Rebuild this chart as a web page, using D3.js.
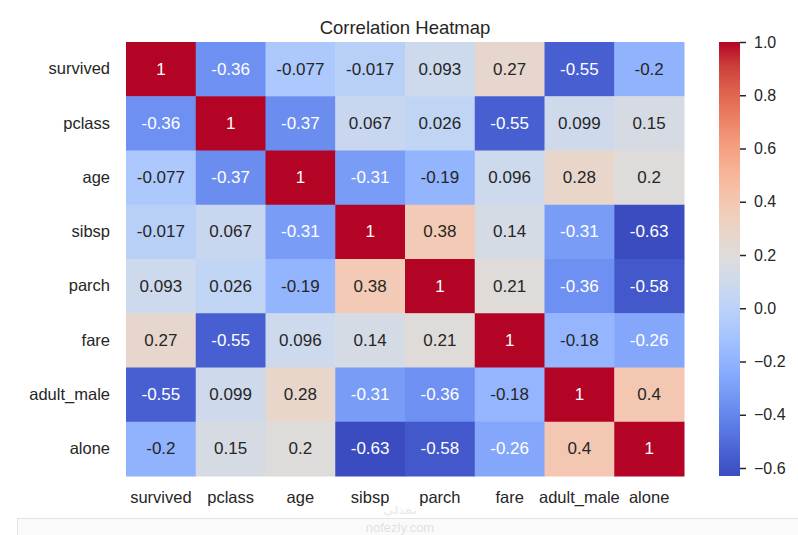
<!DOCTYPE html>
<html>
<head>
<meta charset="utf-8">
<script src="https://cdn.jsdelivr.net/npm/d3@7"></script>
<style>
  body { margin: 0; background: #ffffff; }
  text { font-family: "Liberation Sans", Arial, sans-serif; }
</style>
</head>
<body>
<div id="chart"></div>
<script>
// Chart data
const labels = ['survived', 'pclass', 'age', 'sibsp', 'parch', 'fare', 'adult_male', 'alone'];
const rowSurvived = [1, -0.36, -0.077, -0.017, 0.093, 0.27, -0.55, -0.2];
const rowPclass = [-0.36, 1, -0.37, 0.067, 0.026, -0.55, 0.099, 0.15];
const rowAge = [-0.077, -0.37, 1, -0.31, -0.19, 0.096, 0.28, 0.2];
const rowSibsp = [-0.017, 0.067, -0.31, 1, 0.38, 0.14, -0.31, -0.63];
const rowParch = [0.093, 0.026, -0.19, 0.38, 1, 0.21, -0.36, -0.58];
const rowFare = [0.27, -0.55, 0.096, 0.14, 0.21, 1, -0.18, -0.26];
const rowAdultMale = [-0.55, 0.099, 0.28, -0.31, -0.36, -0.18, 1, 0.4];
const rowAlone = [-0.2, 0.15, 0.2, -0.63, -0.58, -0.26, 0.4, 1];
const colorbarTicks = [-0.6, -0.4, -0.2, 0.0, 0.2, 0.4, 0.6, 0.8, 1.0];

const matrix = [rowSurvived, rowPclass, rowAge, rowSibsp, rowParch, rowFare, rowAdultMale, rowAlone];

// coolwarm anchors
const coolwarm = ['#3b4cc0', '#4961d2', '#5b7ae5', '#6e90f2', '#82a6fb', '#96b7ff', '#aac7fd',
    '#bcd2f7', '#cdd9ec', '#dcdddd', '#e8d6cc', '#f1ccb8', '#f6bea4', '#f7ac8e', '#f39779',
    '#ea7b60', '#de604d', '#cc403a', '#b40426'];

const W = 798, H = 535;
const plot = { left: 126, top: 42, width: 558, height: 434 };
const cbar = { left: 719, width: 21 };

const cells = [];
matrix.forEach((row, i) => row.forEach((v, j) => cells.push({ r: labels[i], c: labels[j], v })));

const vmin = d3.min(cells, d => d.v);
const vmax = d3.max(cells, d => d.v);

const tScale = d3.scaleLinear().domain([vmin, vmax]).range([0, 1]).clamp(true);
const cmap = d3.scaleLinear()
    .domain(coolwarm.map((c, i) => i / (coolwarm.length - 1)))
    .range(coolwarm)
    .interpolate(d3.interpolateRgb);
const color = v => cmap(tScale(v));

function textColor(v) {
    const c = d3.rgb(color(v));
    const lin = x => { x = x / 255; return x <= 0.03928 ? x / 12.92 : Math.pow((x + 0.055) / 1.055, 2.4); };
    const lum = 0.2126 * lin(c.r) + 0.7152 * lin(c.g) + 0.0722 * lin(c.b);
    return lum > 0.408 ? '#262626' : '#ffffff';
}

const svg = d3.select('#chart').append('svg')
    .attr('width', W)
    .attr('height', H);

svg.append('rect').attr('width', W).attr('height', H).attr('fill', '#ffffff');

// bottom page panel
svg.append('rect')
    .attr('x', 17.5).attr('y', 518.5)
    .attr('width', W).attr('height', 30)
    .attr('fill', '#fafafa')
    .attr('stroke', '#e3e3e3');

const x = d3.scaleBand().domain(labels).range([plot.left, plot.left + plot.width]);
const y = d3.scaleBand().domain(labels).range([plot.top, plot.top + plot.height]);

// cells
svg.append('g').selectAll('rect')
    .data(cells)
    .join('rect')
    .attr('x', d => x(d.c))
    .attr('y', d => y(d.r))
    .attr('width', x.bandwidth() + 0.5)
    .attr('height', y.bandwidth() + 0.5)
    .attr('fill', d => color(d.v));

// annotations
svg.append('g').selectAll('text')
    .data(cells)
    .join('text')
    .attr('x', d => x(d.c) + x.bandwidth() / 2)
    .attr('y', d => y(d.r) + y.bandwidth() / 2)
    .attr('text-anchor', 'middle')
    .attr('dominant-baseline', 'central')
    .attr('font-size', '17px')
    .attr('fill', d => textColor(d.v))
    .text(d => String(d.v));

// axes
const xAxis = svg.append('g')
    .attr('transform', `translate(0,${plot.top + plot.height})`)
    .call(d3.axisBottom(x).tickSize(0).tickPadding(15));
const yAxis = svg.append('g')
    .attr('transform', `translate(${plot.left},0)`)
    .call(d3.axisLeft(y).tickSize(0).tickPadding(16));
[xAxis, yAxis].forEach(g => {
    g.select('.domain').remove();
    g.selectAll('text')
        .attr('font-size', '16.5px')
        .attr('fill', '#262626')
        .style('font-family', '"Liberation Sans", Arial, sans-serif');
});

// title
svg.append('text')
    .attr('x', plot.left + plot.width / 2)
    .attr('y', 34)
    .attr('text-anchor', 'middle')
    .attr('font-size', '18.5px')
    .attr('fill', '#262626')
    .text('Correlation Heatmap');

// colorbar
const cy = d3.scaleLinear().domain([vmin, vmax]).range([plot.top + plot.height, plot.top]);
const defs = svg.append('defs');
const grad = defs.append('linearGradient')
    .attr('id', 'cbgrad')
    .attr('x1', 0).attr('y1', 1).attr('x2', 0).attr('y2', 0);
coolwarm.forEach((c, i) => {
    grad.append('stop')
        .attr('offset', i / (coolwarm.length - 1))
        .attr('stop-color', c);
});
svg.append('rect')
    .attr('x', cbar.left)
    .attr('y', plot.top)
    .attr('width', cbar.width)
    .attr('height', plot.height)
    .attr('fill', 'url(#cbgrad)');

const cAxis = svg.append('g')
    .attr('transform', `translate(${cbar.left + cbar.width},0)`)
    .call(d3.axisRight(cy).tickValues(colorbarTicks).tickSize(6).tickPadding(8)
        .tickFormat(d => d3.format('.1f')(d).replace('-', '\u2212')));
cAxis.select('.domain').remove();
cAxis.selectAll('line').attr('stroke', '#262626').attr('stroke-width', 1.5);
cAxis.selectAll('text')
    .attr('font-size', '16px')
    .attr('fill', '#262626')
    .style('font-family', '"Liberation Sans", Arial, sans-serif');

// faint watermark (kept below the axis labels)
svg.append('text')
    .attr('x', 400).attr('y', 514)
    .attr('text-anchor', 'middle')
    .attr('font-size', '11px')
    .attr('font-weight', 'bold')
    .attr('fill', '#000000')
    .attr('opacity', 0.07)
    .style('font-family', '"DejaVu Sans", sans-serif')
    .text('نفذلي');
svg.append('text')
    .attr('x', 400).attr('y', 532)
    .attr('text-anchor', 'middle')
    .attr('font-size', '13px')
    .attr('fill', '#000000')
    .attr('opacity', 0.1)
    .text('nofezly.com');
</script>
</body>
</html>
